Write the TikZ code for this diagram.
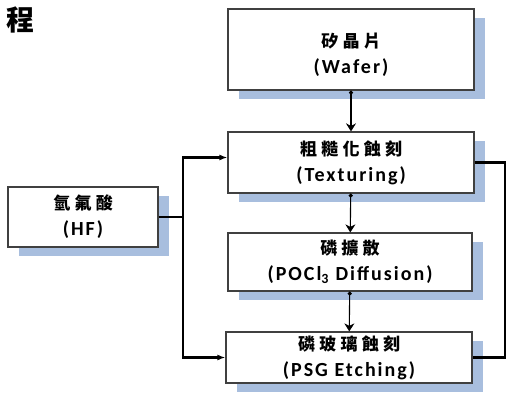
\documentclass[tikz,border=0pt]{standalone}
\usepackage{fontspec}
\setmainfont{Carlito}[LetterSpace=10]
\newfontfamily\cjk{Noto Sans CJK TC}
\newfontfamily\cjkwide[LetterSpace=25]{Noto Sans CJK TC}
\usetikzlibrary{arrows.meta,positioning,shadows}
\definecolor{shblue}{HTML}{A8BEDE}
\definecolor{boxline}{HTML}{404040}
\newcommand{\zh}[1]{{\cjkwide\bfseries\fontsize{17}{26}\selectfont #1}}

\begin{document}
\begin{tikzpicture}[x=1pt,y=-1pt,
    stepbox/.style={draw=boxline,line width=1.2pt,fill=white,align=center,
      font=\bfseries\fontsize{20}{26}\selectfont,inner sep=0pt,
      drop shadow={shadow xshift=11pt,shadow yshift=-9pt,fill=shblue,opacity=1}},
    flow/.style={line width=1.1pt,{Circle[length=4pt]}-{Stealth[length=8pt,width=10pt,inset=2.5pt]}},
    feed/.style={line width=2.4pt}]

  % ---- Canvas -------------------------------------------------
  \useasboundingbox (0,0) rectangle (509,401);

  % ---- Title remnant ------------------------------------------
  \node[font=\cjk\bfseries\fontsize{28}{28}\selectfont] (title) at (20,20) {程};

  % ---- Process boxes ------------------------------------------
  \node[stepbox,minimum width=246pt,minimum height=81pt] (wafer) at (351,49.5)
    {\zh{\rule{0pt}{26pt}矽晶片}\\(Wafer)};
  \node[stepbox,minimum width=246pt,minimum height=61pt] (tex) at (351,162.5)
    {\zh{粗糙化蝕刻}\\(Texturing)};
  \node[stepbox,minimum width=244pt,minimum height=58pt] (pocl) at (350,262)
    {\zh{磷擴散}\\(POCl\textsubscript{3} Diffusion)};
  \node[stepbox,minimum width=246pt,minimum height=51pt] (psg) at (349,357.5)
    {\zh{磷玻璃蝕刻}\\(PSG Etching)};
  % Acid supply
  \node[stepbox,minimum width=150pt,minimum height=60pt] (hf) at (83,217)
    {\zh{氫氟酸}\\(HF)};

  % ---- Main flow ----------------------------------------------
  \draw[flow] (wafer) -- (tex);
  \draw[flow] (tex) -- (pocl);
  \draw[flow] (pocl) -- (psg);

  % ---- HF feed lines ------------------------------------------
  \coordinate (jn) at (183,217);
  \draw[feed] (hf.east) -- (jn);
  \draw[feed,-{Latex[length=8pt,width=6pt]}] (jn) |- ([yshift=5pt]tex.west);
  \draw[feed,-{Latex[length=8pt,width=6pt]}] (jn) |- (psg.west);

  % ---- Return line (right side) -------------------------------
  \coordinate (rt) at (505,162.5);
  \draw[feed] (tex.east) -- (rt) |- (psg.east);

\end{tikzpicture}
\end{document}
